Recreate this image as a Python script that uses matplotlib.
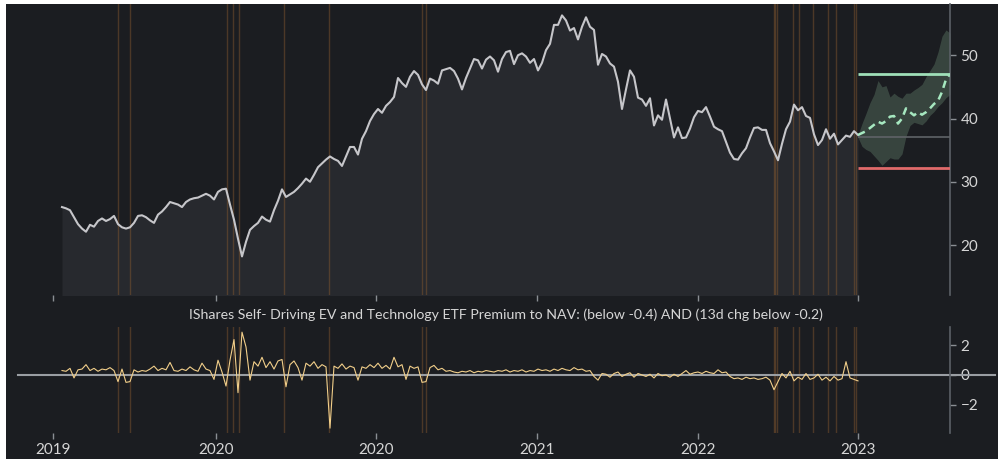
import numpy as np
import matplotlib.pyplot as plt
from matplotlib.patches import Rectangle

# ---- data (x = sample index, ~one step per 4 px) ----
price = [
    26.0, 25.8, 25.5, 24.4, 23.3, 22.6, 22.1, 23.2, 22.9, 23.8,
    24.2, 23.8, 24.1, 24.6, 23.3, 22.8, 22.6, 22.8, 23.5, 24.6,
    24.7, 24.4, 23.9, 23.5, 24.8, 25.3, 26.0, 26.8, 26.6, 26.4,
    26.0, 26.8, 27.2, 27.4, 27.5, 27.8, 28.1, 27.8, 27.2, 28.4,
    28.8, 28.9, 26.4, 24.0, 21.0, 18.2, 20.5, 22.4, 23.0, 23.5,
    24.5, 24.0, 23.7, 25.5, 27.0, 28.8, 27.6, 28.0, 28.4, 29.0,
    29.7, 30.5, 30.0, 31.1, 32.3, 32.9, 33.5, 34.0, 33.6, 33.3,
    32.5, 34.0, 35.5, 35.5, 34.3, 36.8, 38.0, 39.6, 40.7, 41.5,
    40.9, 42.0, 42.6, 43.4, 46.4, 45.6, 45.0, 46.6, 47.5, 46.9,
    45.4, 44.5, 46.3, 46.0, 45.5, 47.6, 47.8, 48.0, 47.5, 46.3,
    44.6, 46.4, 47.9, 49.4, 49.2, 47.9, 49.3, 49.8, 49.2, 47.4,
    49.4, 50.5, 50.7, 48.6, 50.0, 50.3, 49.8, 48.8, 49.4, 47.6,
    48.8, 50.8, 51.8, 54.8, 54.8, 56.3, 55.5, 53.9, 54.3, 52.5,
    54.5, 56.0, 54.5, 54.0, 48.5, 50.2, 49.8, 48.7, 48.2, 45.8,
    41.5, 44.6, 47.6, 46.6, 43.3, 43.0, 42.0, 43.2, 38.9, 40.5,
    39.8, 43.0, 40.0, 37.0, 38.6, 36.9, 37.0, 38.4, 40.2, 41.2,
    41.0, 41.8, 40.3, 38.7, 38.3, 38.0, 36.3, 34.6, 33.6, 33.5,
    34.5, 35.3, 37.0, 38.5, 38.6, 38.2, 38.2, 36.1, 34.8, 33.4,
    36.0, 38.3, 39.5, 42.2, 41.3, 41.8, 40.4, 40.1, 37.5, 35.8,
    36.6, 38.3, 36.8, 37.6, 35.9, 36.6, 37.3, 37.1, 38.0, 37.4,
]

premium = [
    0.30, 0.25, 0.45, -0.20, 0.35, 0.40, 0.70, 0.30, 0.45, 0.25,
    0.40, 0.35, 0.50, 0.30, -0.45, 0.40, -0.50, -0.45, 0.35, 0.20,
    0.30, 0.25, 0.40, 0.60, 0.30, 0.45, 0.35, 0.85, 0.30, 0.25,
    0.40, 0.30, 0.55, 0.35, 0.25, 0.80, 0.40, 0.30, -0.30, 1.00,
    0.20, -0.75, 1.00, 2.40, -1.20, 2.90, 1.90, -0.35, 0.90, 0.60,
    1.20, 0.50, 0.90, 0.40, 0.95, 1.05, -0.80, 0.70, 0.95, 0.50,
    -0.35, 0.80, 0.60, 0.90, 0.45, 0.70, 0.55, -3.60, 0.60, 0.45,
    0.75, 0.40, 0.60, 0.50, -0.35, 0.55, 0.45, 0.70, 0.50, 0.80,
    0.45, 0.65, 0.40, 1.20, 0.55, 0.70, -0.30, 0.60, 0.45, 0.55,
    -0.50, -0.45, 0.50, 0.65, 0.35, 0.45, 0.25, 0.30, 0.20, 0.15,
    0.25, 0.20, 0.30, 0.15, 0.25, 0.20, 0.30, 0.25, 0.20, 0.30,
    0.25, 0.35, 0.20, 0.30, 0.25, 0.35, 0.20, 0.30, 0.25, 0.40,
    0.30, 0.35, 0.25, 0.40, 0.30, 0.45, 0.35, 0.30, 0.50, 0.35,
    0.40, 0.25, 0.30, -0.10, -0.35, 0.10, 0.05, -0.15, 0.10, 0.20,
    -0.10, 0.05, 0.15, -0.15, 0.10, 0.00, -0.10, 0.05, -0.20, 0.10,
    -0.05, 0.00, -0.15, 0.05, -0.10, 0.10, 0.30, 0.05, 0.15, 0.20,
    0.10, 0.25, 0.15, 0.10, 0.35, 0.15, 0.20, -0.10, -0.25, -0.20,
    -0.30, -0.15, -0.25, -0.20, -0.30, -0.25, -0.15, -0.35, -1.00, -0.45,
    0.10, -0.20, 0.25, -0.40, -0.15, -0.30, 0.10, -0.30, -0.20, 0.05,
    -0.35, -0.15, -0.40, -0.10, -0.35, -0.25, 0.90, -0.20, -0.30, -0.40,
]

# forecast cone after the last close
fc_mid = [37.4, 37.7, 38.0, 38.5, 39.0, 39.5, 39.2, 39.6, 40.3, 40.4, 39.2, 40.0,
          41.6, 41.0, 40.5, 41.0, 40.6, 41.0, 41.6, 42.3, 42.8, 44.2, 46.2, 47.0]
fc_hi = [37.4, 39.2, 40.8, 42.5, 43.8, 46.0, 45.0, 45.2, 43.4, 44.0, 43.5, 43.2,
         44.0, 44.0, 44.5, 44.9, 45.4, 46.6, 47.6, 48.6, 50.5, 53.0, 54.0, 53.5]
fc_lo = [37.0, 35.6, 35.1, 34.8, 34.1, 33.4, 32.6, 33.2, 33.8, 33.6, 33.6, 34.4,
         37.2, 38.9, 39.4, 39.2, 39.0, 39.6, 40.5, 41.1, 41.9, 42.5, 43.3, 43.8]
target_hi = 47.0
target_lo = 32.1
last_close = 37.05

# signal days (sample index)
signals = [14, 17, 41.3, 42.7, 44.3, 55.6, 66.8, 89.9, 90.9,
           177.9, 178.3, 178.7, 182.7, 184.3, 187.7, 191.5, 193.5, 198.0, 198.6]

tick_pos = [-2.25, 38.5, 78.5, 118.75, 159, 199]
tick_lab = ["2019", "2020", "2020", "2021", "2022", "2023"]

title = "IShares Self- Driving EV and Technology ETF Premium to NAV: (below -0.4) AND (13d chg below -0.2)"

bg = "#1b1d21"
txt = "#d6d6d6"
plt.rcParams['font.family'] = ['Lato', 'DejaVu Sans']

fig = plt.figure(figsize=(9.98, 4.59), dpi=100, facecolor="white")
fig.patches.append(Rectangle((6 / 998, 0), 1, 1 - 4 / 459, transform=fig.transFigure,
                             facecolor=bg, edgecolor="none", zorder=-10))

ax = fig.add_axes([18 / 998, 1 - 295 / 459, 932 / 998, 291 / 459])
ax2 = fig.add_axes([18 / 998, 1 - 433 / 459, 932 / 998, 106 / 459])

x = np.arange(len(price))
xp = np.arange(len(premium))
xf = np.arange(len(price) - 1, len(price) - 1 + len(fc_mid))

for a in (ax, ax2):
    a.set_facecolor("none")
    a.set_zorder(1)
    for s in a.spines.values():
        s.set_visible(False)
    a.spines["right"].set_visible(True)
    a.spines["right"].set_color("#5b6066")
    a.spines["right"].set_linewidth(1.2)
    a.set_xlim(-11, 222)
    a.set_xticks(tick_pos)
    a.yaxis.tick_right()
    a.tick_params(axis="both", colors="#8a8e93", labelcolor=txt, length=4, width=1,
                  labelsize=11)
    for sx in signals:
        a.axvline(sx, color="#8a5a30", alpha=0.45, lw=1.0, zorder=1)

# top panel: price
ax.fill_between(x, price, 0, color="#27292e", zorder=0.5, lw=0)
ax.plot(x, price, color="#c6c6ca", lw=1.5, zorder=3)
ax.fill_between(xf, fc_lo, fc_hi, color="#3d4c44", alpha=0.85, lw=0, zorder=2)
ax.plot(xf, fc_mid, color="#a6e8c0", lw=1.8, ls=(0, (3, 2)), zorder=4)
ax.hlines(target_hi, xf[0], xf[-1], color="#9fdfb8", lw=2, zorder=4)
ax.hlines(target_lo, xf[0], xf[-1], color="#e06a6a", lw=2, zorder=4)
ax.hlines(last_close, xf[0], xf[-1], color="#5f6367", lw=1.2, zorder=3)
ax.set_ylim(12.1, 58.1)
ax.set_yticks([20, 30, 40, 50])
ax.set_xticklabels([])

# bottom panel: premium to NAV
ax2.plot(xp, premium, color="#f2cf8a", lw=0.8, zorder=3)
ax2.axhline(0, xmin=0, xmax=977 / 932, color="#9a9ea3", lw=1.5, zorder=2, clip_on=False)
ax2.set_ylim(-3.93, 3.25)
ax2.set_yticks([-2, 0, 2])
ax2.set_xticklabels(tick_lab)

fig.text(506 / 998, 1 - 315 / 459, title, color=txt, fontsize=10.2, ha="center", va="center")

fig.savefig("out.png", dpi=100, facecolor=fig.get_facecolor())
